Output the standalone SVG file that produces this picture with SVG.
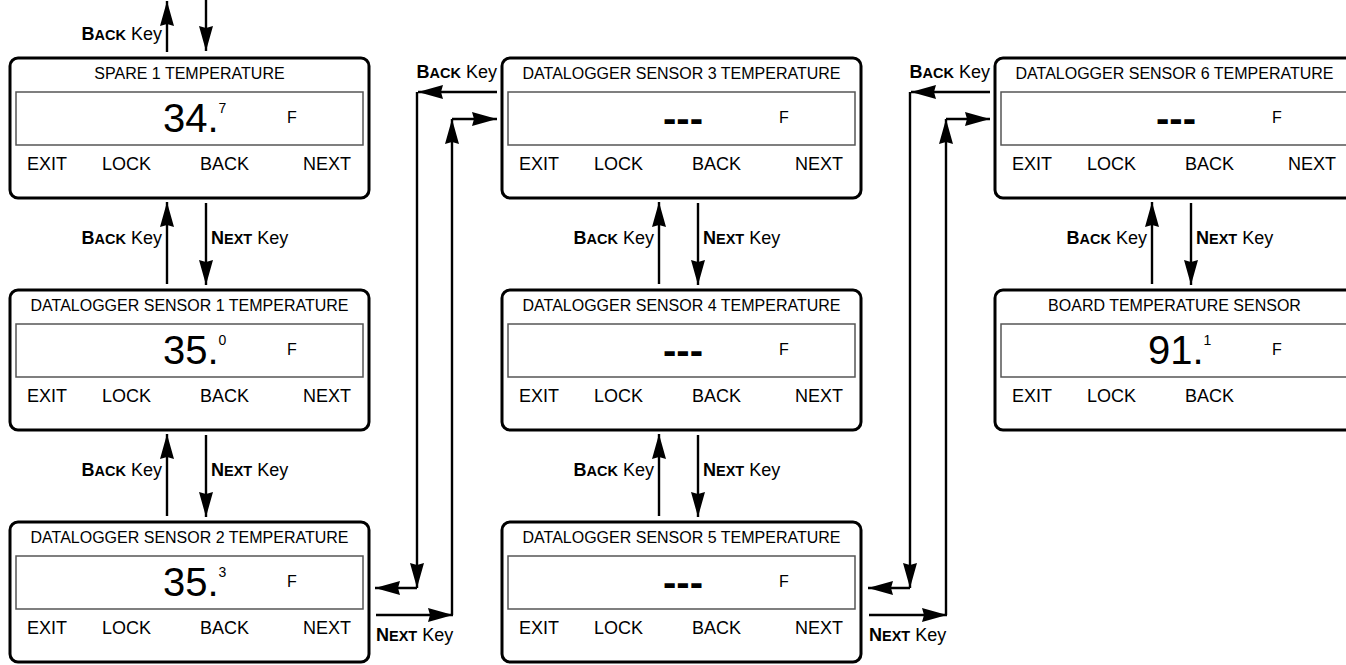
<svg xmlns="http://www.w3.org/2000/svg" width="1346" height="665" viewBox="0 0 1346 665">
<style>
.box{fill:#fff;stroke:#000;stroke-width:3}
.disp{fill:#fff;stroke:#555;stroke-width:1.5}
text{font-family:"Liberation Sans",Arial,sans-serif;fill:#000}
.title{font-size:16px;text-anchor:middle}
.btn{font-size:18px}
.val{font-size:40px}
.dash{font-size:40px;font-weight:bold}
.sup{font-size:14px}
.unit{font-size:16px}
.lbl{font-size:18px}
.b{font-weight:bold}
.sc{font-weight:bold;font-size:14.5px}
.end{text-anchor:end}
.conn line{stroke:#000;stroke-width:2.4;marker-end:url(#ah)}
</style>
<defs>
<marker id="ah" viewBox="0 0 25 14" refX="25" refY="7" markerWidth="25" markerHeight="14" markerUnits="userSpaceOnUse" orient="auto">
<path d="M0,0 L25,7 L0,14 L2,7 Z" fill="#000"/>
</marker>
</defs>
<rect width="1346" height="665" fill="#fff"/>

<g id="n1" transform="translate(10,58)">
<rect class="box" x="0" y="0" width="359" height="140" rx="8"/>
<text class="title" x="179.5" y="21">SPARE 1 TEMPERATURE</text>
<rect class="disp" x="6" y="34" width="347" height="53"/>
<text class="val" x="153" y="74">34.</text><text class="sup" x="208.5" y="55">7</text>
<text class="unit" x="277" y="65">F</text>
<text class="btn" x="17" y="112">EXIT</text><text class="btn" x="92" y="112">LOCK</text><text class="btn" x="190" y="112">BACK</text><text class="btn" x="293" y="112">NEXT</text>
</g>

<g id="n2" transform="translate(10,290)">
<rect class="box" x="0" y="0" width="359" height="140" rx="8"/>
<text class="title" x="179.5" y="21">DATALOGGER SENSOR 1 TEMPERATURE</text>
<rect class="disp" x="6" y="34" width="347" height="53"/>
<text class="val" x="153" y="74">35.</text><text class="sup" x="208.5" y="55">0</text>
<text class="unit" x="277" y="65">F</text>
<text class="btn" x="17" y="112">EXIT</text><text class="btn" x="92" y="112">LOCK</text><text class="btn" x="190" y="112">BACK</text><text class="btn" x="293" y="112">NEXT</text>
</g>

<g id="n3" transform="translate(10,522)">
<rect class="box" x="0" y="0" width="359" height="140" rx="8"/>
<text class="title" x="179.5" y="21">DATALOGGER SENSOR 2 TEMPERATURE</text>
<rect class="disp" x="6" y="34" width="347" height="53"/>
<text class="val" x="153" y="74">35.</text><text class="sup" x="208.5" y="55">3</text>
<text class="unit" x="277" y="65">F</text>
<text class="btn" x="17" y="112">EXIT</text><text class="btn" x="92" y="112">LOCK</text><text class="btn" x="190" y="112">BACK</text><text class="btn" x="293" y="112">NEXT</text>
</g>

<g id="n4" transform="translate(502,58)">
<rect class="box" x="0" y="0" width="359" height="140" rx="8"/>
<text class="title" x="179.5" y="21">DATALOGGER SENSOR 3 TEMPERATURE</text>
<rect class="disp" x="6" y="34" width="347" height="53"/>
<text class="dash" x="161" y="74">---</text>
<text class="unit" x="277" y="65">F</text>
<text class="btn" x="17" y="112">EXIT</text><text class="btn" x="92" y="112">LOCK</text><text class="btn" x="190" y="112">BACK</text><text class="btn" x="293" y="112">NEXT</text>
</g>

<g id="n5" transform="translate(502,290)">
<rect class="box" x="0" y="0" width="359" height="140" rx="8"/>
<text class="title" x="179.5" y="21">DATALOGGER SENSOR 4 TEMPERATURE</text>
<rect class="disp" x="6" y="34" width="347" height="53"/>
<text class="dash" x="161" y="74">---</text>
<text class="unit" x="277" y="65">F</text>
<text class="btn" x="17" y="112">EXIT</text><text class="btn" x="92" y="112">LOCK</text><text class="btn" x="190" y="112">BACK</text><text class="btn" x="293" y="112">NEXT</text>
</g>

<g id="n6" transform="translate(502,522)">
<rect class="box" x="0" y="0" width="359" height="140" rx="8"/>
<text class="title" x="179.5" y="21">DATALOGGER SENSOR 5 TEMPERATURE</text>
<rect class="disp" x="6" y="34" width="347" height="53"/>
<text class="dash" x="161" y="74">---</text>
<text class="unit" x="277" y="65">F</text>
<text class="btn" x="17" y="112">EXIT</text><text class="btn" x="92" y="112">LOCK</text><text class="btn" x="190" y="112">BACK</text><text class="btn" x="293" y="112">NEXT</text>
</g>

<g id="n7" transform="translate(995,58)">
<rect class="box" x="0" y="0" width="359" height="140" rx="8"/>
<text class="title" x="179.5" y="21">DATALOGGER SENSOR 6 TEMPERATURE</text>
<rect class="disp" x="6" y="34" width="347" height="53"/>
<text class="dash" x="161" y="74">---</text>
<text class="unit" x="277" y="65">F</text>
<text class="btn" x="17" y="112">EXIT</text><text class="btn" x="92" y="112">LOCK</text><text class="btn" x="190" y="112">BACK</text><text class="btn" x="293" y="112">NEXT</text>
</g>

<g id="n8" transform="translate(995,290)">
<rect class="box" x="0" y="0" width="359" height="140" rx="8"/>
<text class="title" x="179.5" y="21">BOARD TEMPERATURE SENSOR</text>
<rect class="disp" x="6" y="34" width="347" height="53"/>
<text class="val" x="153" y="74">91.</text><text class="sup" x="208.5" y="55">1</text>
<text class="unit" x="277" y="65">F</text>
<text class="btn" x="17" y="112">EXIT</text><text class="btn" x="92" y="112">LOCK</text><text class="btn" x="190" y="112">BACK</text>
</g>

<g id="connectors" class="conn">
<line x1="167" y1="52" x2="167" y2="1"/>
<line x1="206" y1="0" x2="206" y2="51"/>
<line x1="167" y1="284" x2="167" y2="202"/>
<line x1="206" y1="203" x2="206" y2="285"/>
<line x1="167" y1="516" x2="167" y2="434"/>
<line x1="206" y1="435" x2="206" y2="517"/>
<line x1="659" y1="284" x2="659" y2="202"/>
<line x1="698" y1="203" x2="698" y2="285"/>
<line x1="659" y1="516" x2="659" y2="434"/>
<line x1="698" y1="435" x2="698" y2="517"/>
<line x1="1152" y1="284" x2="1152" y2="202"/>
<line x1="1191" y1="203" x2="1191" y2="285"/>
<line x1="497" y1="92" x2="418" y2="92"/>
<line x1="417" y1="92" x2="417" y2="588"/>
<line x1="417" y1="588" x2="375" y2="588"/>
<line x1="376" y1="615" x2="453" y2="615"/>
<line x1="452" y1="615" x2="452" y2="119"/>
<line x1="452" y1="119" x2="497" y2="119"/>
<line x1="990" y1="92" x2="911" y2="92"/>
<line x1="910" y1="92" x2="910" y2="588"/>
<line x1="910" y1="588" x2="868" y2="588"/>
<line x1="869" y1="615" x2="947" y2="615"/>
<line x1="946" y1="615" x2="946" y2="119"/>
<line x1="946" y1="119" x2="990" y2="119"/>
</g>

<g id="labels">
<text class="lbl end" x="162" y="40"><tspan class="b">B</tspan><tspan class="sc">ACK</tspan> Key</text>
<text class="lbl end" x="162" y="244"><tspan class="b">B</tspan><tspan class="sc">ACK</tspan> Key</text>
<text class="lbl" x="211" y="244"><tspan class="b">N</tspan><tspan class="sc">EXT</tspan> Key</text>
<text class="lbl end" x="162" y="476"><tspan class="b">B</tspan><tspan class="sc">ACK</tspan> Key</text>
<text class="lbl" x="211" y="476"><tspan class="b">N</tspan><tspan class="sc">EXT</tspan> Key</text>
<text class="lbl end" x="654" y="244"><tspan class="b">B</tspan><tspan class="sc">ACK</tspan> Key</text>
<text class="lbl" x="703" y="244"><tspan class="b">N</tspan><tspan class="sc">EXT</tspan> Key</text>
<text class="lbl end" x="654" y="476"><tspan class="b">B</tspan><tspan class="sc">ACK</tspan> Key</text>
<text class="lbl" x="703" y="476"><tspan class="b">N</tspan><tspan class="sc">EXT</tspan> Key</text>
<text class="lbl end" x="1147" y="244"><tspan class="b">B</tspan><tspan class="sc">ACK</tspan> Key</text>
<text class="lbl" x="1196" y="244"><tspan class="b">N</tspan><tspan class="sc">EXT</tspan> Key</text>
<text class="lbl end" x="497" y="78"><tspan class="b">B</tspan><tspan class="sc">ACK</tspan> Key</text>
<text class="lbl" x="376" y="641"><tspan class="b">N</tspan><tspan class="sc">EXT</tspan> Key</text>
<text class="lbl end" x="990" y="78"><tspan class="b">B</tspan><tspan class="sc">ACK</tspan> Key</text>
<text class="lbl" x="869" y="641"><tspan class="b">N</tspan><tspan class="sc">EXT</tspan> Key</text>
</g>
</svg>
